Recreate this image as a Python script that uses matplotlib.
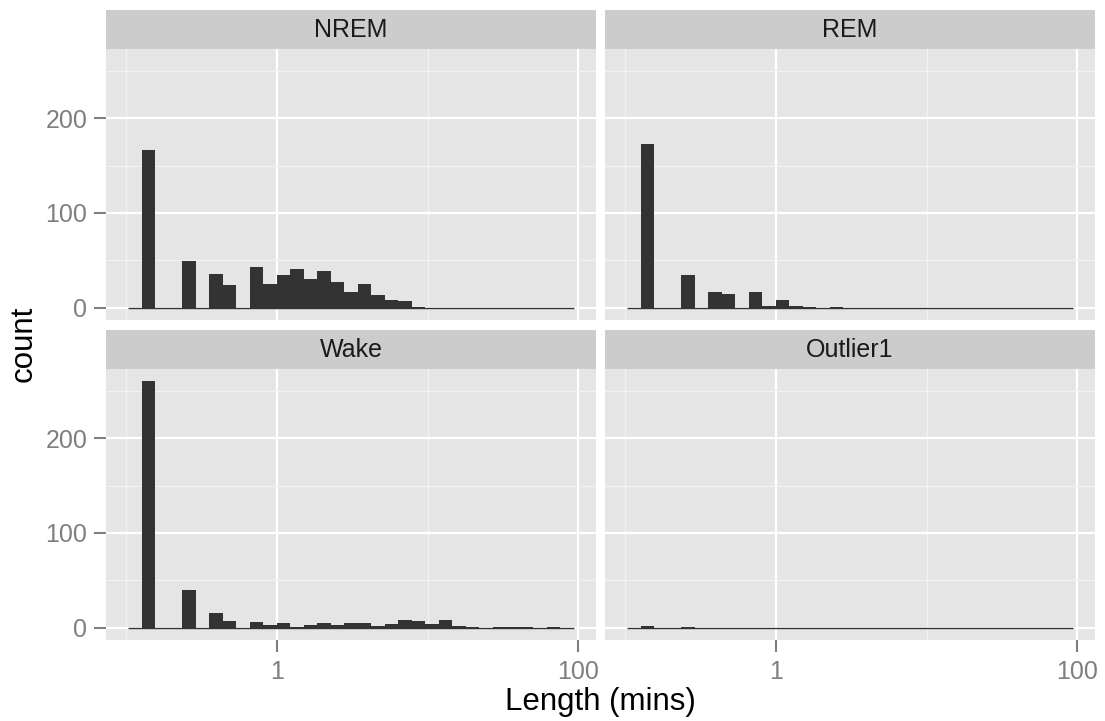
import numpy as np
import matplotlib
matplotlib.use("Agg")
import matplotlib.pyplot as plt

plt.rcParams['font.family'] = ['Liberation Sans', 'DejaVu Sans']

# ---- data ----
panels = ["NREM", "REM", "Wake", "Outlier1"]
bin_start_log = -0.987     # log10(minutes) of first bin edge
bin_width_log = 0.0896     # log10 bin width
n_bins = 33
counts_nrem = [0, 166, 0, 0, 49, 0, 36, 24, 0, 43, 25, 34, 41, 30, 39, 27, 17, 25,
               13, 8, 7, 1, 0, 0, 0, 0, 0, 0, 0, 0, 0, 0, 0]
counts_rem = [0, 173, 0, 0, 34, 0, 17, 14, 0, 17, 2, 8, 2, 1, 0, 1, 0, 0, 0, 0,
              0, 0, 0, 0, 0, 0, 0, 0, 0, 0, 0, 0, 0]
counts_wake = [0, 260, 0, 0, 40, 0, 15, 7, 0, 6, 3, 5, 1, 3, 5, 3, 5, 5, 2, 4,
               8, 7, 4, 8, 2, 1, 0, 1, 1, 1, 0, 1, 0]
counts_outlier = [0, 2, 0, 0, 1, 0, 0, 0, 0, 0, 0, 0, 0, 0, 0, 0, 0, 0, 0, 0,
                  0, 0, 0, 0, 0, 0, 0, 0, 0, 0, 0, 0, 0]
all_counts = [counts_nrem, counts_rem, counts_wake, counts_outlier]
x_major = [1, 100]
x_major_labels = ["1", "100"]
x_minor = [0.1, 10]
y_major = [0, 100, 200]
y_minor = [50, 150, 250]

W, H = 1105, 721
fig = plt.figure(figsize=(W / 100, H / 100), dpi=100)

def px_axes(x0, y0, x1, y1):
    return fig.add_axes([x0 / W, (H - y1) / H, (x1 - x0) / W, (y1 - y0) / H])

edges = bin_start_log + bin_width_log * np.arange(n_bins + 1)
xr = edges[-1] - edges[0]
xlim = (edges[0] - 0.05 * xr, edges[-1] + 0.05 * xr)
ymax = max(max(c) for c in all_counts)
ylim = (-0.05 * ymax, 1.05 * ymax)

cols = [(106, 596), (605, 1095)]
rows = [(10, 49, 320), (330, 369, 640)]

tick_color = '#7F7F7F'
for i, (name, counts) in enumerate(zip(panels, all_counts)):
    r, c = divmod(i, 2)
    x0, x1 = cols[c]
    s0, p0, p1 = rows[r]
    sax = px_axes(x0, s0, x1, p0)
    sax.set_facecolor('#CCCCCC')
    sax.set_xticks([]); sax.set_yticks([])
    for sp in sax.spines.values():
        sp.set_visible(False)
    sax.text(0.5, 0.48, name, ha='center', va='center', fontsize=18,
             color='#1A1A1A', transform=sax.transAxes)

    ax = px_axes(x0, p0, x1, p1)
    ax.set_facecolor('#E5E5E5')
    for sp in ax.spines.values():
        sp.set_visible(False)
    ax.set_xlim(*xlim)
    ax.set_ylim(*ylim)
    ax.set_xticks(np.log10(x_major))
    ax.set_xticks(np.log10(x_minor), minor=True)
    ax.set_yticks(y_major)
    ax.set_yticks(y_minor, minor=True)
    ax.grid(True, which='major', color='white', linewidth=1.6, zorder=0)
    ax.grid(True, which='minor', color='#F2F2F2', linewidth=0.85, zorder=0)
    ax.set_axisbelow(True)
    ax.tick_params(which='minor', length=0)
    ax.tick_params(which='major', length=8.5, width=1.5, color=tick_color,
                   labelcolor=tick_color, labelsize=18)
    ax.tick_params(axis='y', pad=5)
    ax.tick_params(axis='x', pad=6)
    if r == 1:
        ax.set_xticklabels(x_major_labels)
    else:
        ax.tick_params(axis='x', which='major', length=0, labelbottom=False)
    if c == 0:
        ax.set_yticklabels([str(v) for v in y_major])
    else:
        ax.tick_params(axis='y', which='major', length=0, labelleft=False)

    ax.bar(edges[:-1], counts, width=bin_width_log, align='edge',
           color='#333333', linewidth=0, zorder=3)
    ax.hlines(0, edges[0], edges[-1], color='#333333', linewidth=1.0, zorder=3)

fig.text(24 / W, (H - 344) / H, "count", rotation=90, ha='center', va='center',
         fontsize=22.5, color='black')
fig.text(600 / W, (H - 710) / H, "Length (mins)", ha='center', va='baseline',
         fontsize=22.5, color='black')

fig.savefig("out.png", dpi=100, facecolor='white')
